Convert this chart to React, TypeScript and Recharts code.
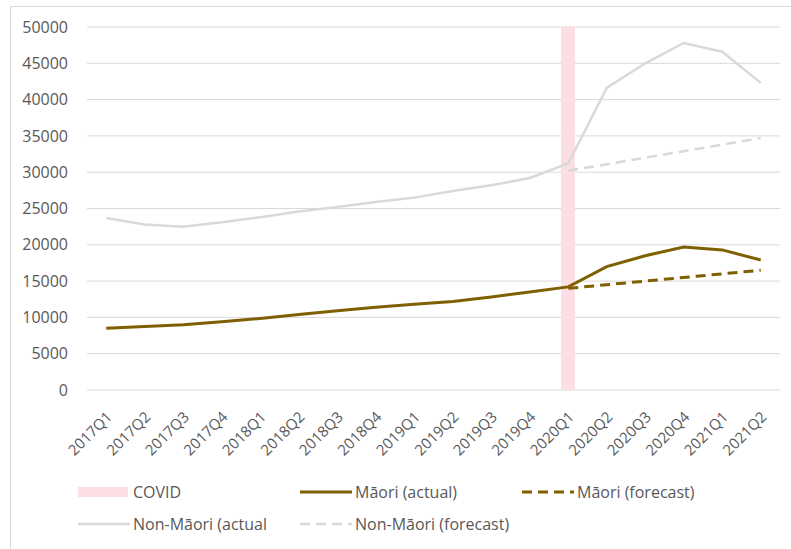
import React from "react";
import {
  ComposedChart,
  Bar,
  Line,
  CartesianGrid,
  XAxis,
  YAxis,
} from "recharts";

const quarters = [
  "2017Q1", "2017Q2", "2017Q3", "2017Q4",
  "2018Q1", "2018Q2", "2018Q3", "2018Q4",
  "2019Q1", "2019Q2", "2019Q3", "2019Q4",
  "2020Q1", "2020Q2", "2020Q3", "2020Q4",
  "2021Q1", "2021Q2",
];

const maoriActual = [
  8500, 8750, 9000, 9400, 9850, 10400, 10900, 11400, 11800,
  12200, 12800, 13500, 14200, 17000, 18500, 19700, 19300, 17900,
];

const maoriForecast = [
  null, null, null, null, null, null, null, null, null,
  null, null, null, 14000, 14500, 15000, 15500, 16000, 16500,
];

const nonMaoriActual = [
  23700, 22800, 22500, 23100, 23800, 24600, 25200, 25900, 26500,
  27400, 28200, 29200, 31200, 41600, 45000, 47800, 46600, 42300,
];

const nonMaoriForecast = [
  null, null, null, null, null, null, null, null, null,
  null, null, null, 30200, 31100, 32000, 32900, 33800, 34700,
];

// COVID period marker (full-height band)
const covid = [
  null, null, null, null, null, null, null, null, null,
  null, null, null, 50000, null, null, null, null, null,
];

const yTicks = [0, 5000, 10000, 15000, 20000, 25000, 30000, 35000, 40000, 45000, 50000];

const GOLD = "#7F6000";
const GREY = "#D9D9D9";
const PINK = "#FBDFE4";
const TEXT = "#595959";
const FONT = "'Open Sans', sans-serif";

const data = quarters.map((q, i) => ({
  quarter: q,
  covid: covid[i],
  maoriActual: maoriActual[i],
  maoriForecast: maoriForecast[i],
  nonMaoriActual: nonMaoriActual[i],
  nonMaoriForecast: nonMaoriForecast[i],
}));

const QuarterTick = ({ x, y, payload }: any) => (
  <g transform={`translate(${x + 4},${y + 17})`}>
    <text
      transform="rotate(-45)"
      textAnchor="end"
      dy={4}
      fill={TEXT}
      fontSize={15}
      fontFamily={FONT}
    >
      {payload.value}
    </text>
  </g>
);

const legendItems = [
  { label: "COVID", kind: "box", color: PINK },
  { label: "Māori (actual)", kind: "line", color: GOLD, width: 3 },
  { label: "Māori (forecast)", kind: "dash", color: GOLD, width: 3 },
  { label: "Non-Māori (actual", kind: "line", color: GREY, width: 2.5 },
  { label: "Non-Māori (forecast)", kind: "dash", color: GREY, width: 2.5 },
];

function LegendIcon({ item }: any) {
  return (
    <svg width={52} height={12} style={{ marginRight: 3, flexShrink: 0 }}>
      {item.kind === "box" ? (
        <rect x={0} y={1} width={50} height={10} fill={item.color} />
      ) : (
        <line
          x1={0}
          y1={6}
          x2={52}
          y2={6}
          stroke={item.color}
          strokeWidth={item.width}
          strokeDasharray={item.kind === "dash" ? "10 6" : undefined}
        />
      )}
    </svg>
  );
}

export default function App() {
  return (
    <div
      style={{
        position: "absolute",
        left: 0,
        top: 0,
        width: 791,
        height: 549,
        background: "#fff",
        overflow: "hidden",
        fontFamily: FONT,
      }}
    >
      <div
        style={{
          position: "absolute",
          left: 10,
          top: 6,
          width: 800,
          height: 560,
          borderLeft: "1px solid #d9d9d9",
          borderTop: "1px solid #d9d9d9",
        }}
      />
      <ComposedChart
        width={791}
        height={549}
        data={data}
        margin={{ top: 27, right: 11, left: 0, bottom: 89 }}
        barCategoryGap={0}
      >
        <CartesianGrid vertical={false} stroke={GREY} strokeWidth={1} />
        <XAxis
          dataKey="quarter"
          axisLine={false}
          tickLine={false}
          interval={0}
          height={70}
          tick={<QuarterTick />}
        />
        <YAxis
          width={87}
          domain={[0, 50000]}
          ticks={yTicks}
          axisLine={false}
          tickLine={false}
          tickMargin={13}
          tick={{ fill: TEXT, fontSize: 16, fontFamily: FONT }}
        />
        <Bar dataKey="covid" fill={PINK} barSize={14} isAnimationActive={false} />
        <Line
          dataKey="nonMaoriActual"
          stroke={GREY}
          strokeWidth={2.5}
          dot={false}
          isAnimationActive={false}
        />
        <Line
          dataKey="nonMaoriForecast"
          stroke={GREY}
          strokeWidth={2.5}
          strokeDasharray="10 6"
          dot={false}
          isAnimationActive={false}
        />
        <Line
          dataKey="maoriActual"
          stroke={GOLD}
          strokeWidth={3}
          dot={false}
          isAnimationActive={false}
        />
        <Line
          dataKey="maoriForecast"
          stroke={GOLD}
          strokeWidth={3}
          strokeDasharray="10 6"
          dot={false}
          isAnimationActive={false}
        />
      </ComposedChart>
      <div
        style={{
          position: "absolute",
          left: 78,
          top: 476,
          width: 680,
          display: "flex",
          flexWrap: "wrap",
        }}
      >
        {legendItems.map((item) => (
          <div
            key={item.label}
            style={{
              width: 222,
              height: 32,
              display: "flex",
              alignItems: "center",
              color: TEXT,
              fontSize: 16,
            }}
          >
            <LegendIcon item={item} />
            <span>{item.label}</span>
          </div>
        ))}
      </div>
    </div>
  );
}
